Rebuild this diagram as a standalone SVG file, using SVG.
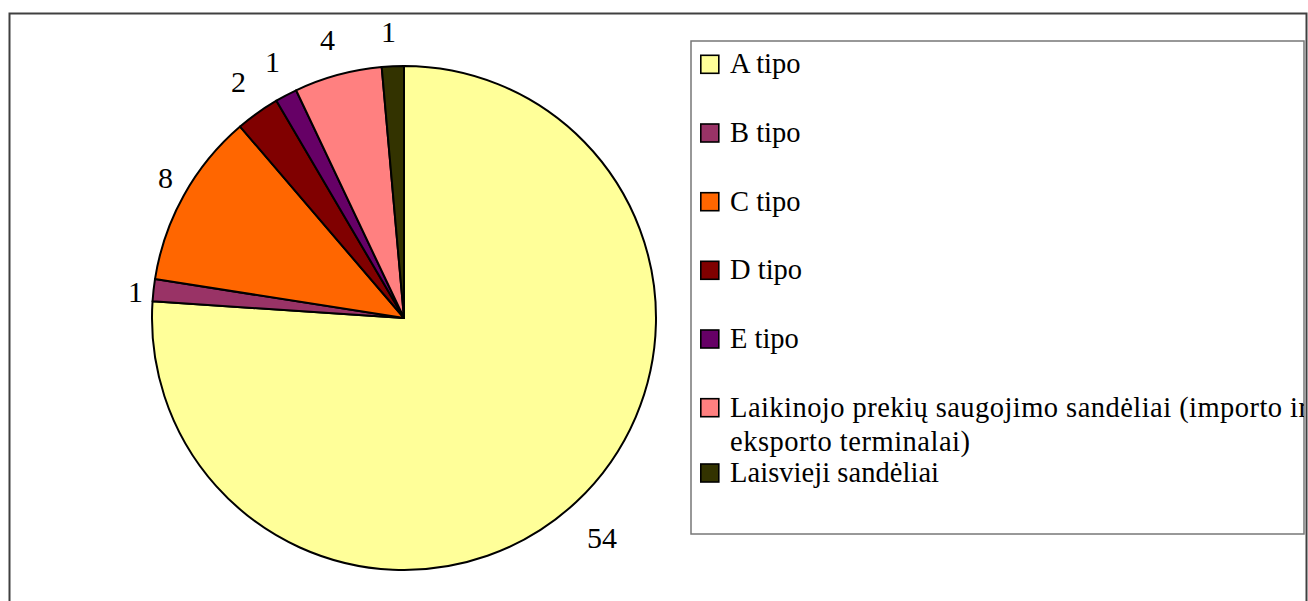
<svg xmlns="http://www.w3.org/2000/svg" width="1308" height="601" viewBox="0 0 1308 601">
<defs>
<style>
.sl{stroke:#000;stroke-width:2;stroke-linejoin:round}
.sw{stroke:#000;stroke-width:1.6}
</style>
<clipPath id="legclip"><rect x="691" y="41" width="613" height="493"/></clipPath>
</defs>
<rect x="0" y="0" width="1308" height="601" fill="#fff"/>
<rect id="frame" x="9.5" y="13.5" width="1297" height="620" fill="none" stroke="#404040" stroke-width="2"/>
<g id="pie">
<path id="slice-A" class="sl" fill="#FFFF99" d="M404,318 L404,66 A252,252 0 1 1 152.55,301.3 Z"/>
<path id="slice-B" class="sl" fill="#993366" d="M404,318 L152.55,301.3 A252,252 0 0 1 155.0,279.1 Z"/>
<path id="slice-C" class="sl" fill="#FF6600" d="M404,318 L155.0,279.1 A252,252 0 0 1 240.1,126.6 Z"/>
<path id="slice-D" class="sl" fill="#800000" d="M404,318 L240.1,126.6 A252,252 0 0 1 276.4,100.7 Z"/>
<path id="slice-E" class="sl" fill="#660066" d="M404,318 L276.4,100.7 A252,252 0 0 1 296.1,90.3 Z"/>
<path id="slice-L" class="sl" fill="#FF8080" d="M404,318 L296.1,90.3 A252,252 0 0 1 381.7,67.0 Z"/>
<path id="slice-F" class="sl" fill="#333300" d="M404,318 L381.7,67.0 A252,252 0 0 1 404,66 Z"/>
</g>
<g id="labels" font-family="Liberation Serif, Times New Roman, serif" font-size="30" fill="#000">
<text x="381" y="42">1</text>
<text x="320" y="50">4</text>
<text x="265" y="72">1</text>
<text x="231" y="92">2</text>
<text x="158" y="188">8</text>
<text x="128" y="302">1</text>
<text x="587" y="548" textLength="30" lengthAdjust="spacingAndGlyphs">54</text>
</g>
<g id="legend">
<rect x="691" y="41" width="613" height="493" fill="#fff" stroke="#777" stroke-width="1.5"/>
<g clip-path="url(#legclip)" font-family="Liberation Serif, Times New Roman, serif" font-size="28.5" fill="#000">
<rect class="sw" x="700.8" y="55.3" width="18" height="18" fill="#FFFF99"/>
<text x="730" y="73.3">A tipo</text>
<rect class="sw" x="700.8" y="124" width="18" height="18" fill="#993366"/>
<text x="730" y="142">B tipo</text>
<rect class="sw" x="700.8" y="192.7" width="18" height="18" fill="#FF6600"/>
<text x="730" y="210.7">C tipo</text>
<rect class="sw" x="700.8" y="261.3" width="18" height="18" fill="#800000"/>
<text x="730" y="279.3">D tipo</text>
<rect class="sw" x="700.8" y="330" width="18" height="18" fill="#660066"/>
<text x="730" y="348">E tipo</text>
<rect class="sw" x="700.8" y="398.7" width="18" height="18" fill="#FF8080"/>
<text x="730" y="416.7" textLength="578" lengthAdjust="spacing">Laikinojo prekių saugojimo sandėliai (importo ir</text>
<text x="730" y="451" textLength="240" lengthAdjust="spacing">eksporto terminalai)</text>
<rect class="sw" x="700.8" y="464" width="18" height="18" fill="#333300"/>
<text x="730" y="481.7" textLength="209" lengthAdjust="spacing">Laisvieji sandėliai</text>
</g>
</g>
</svg>
